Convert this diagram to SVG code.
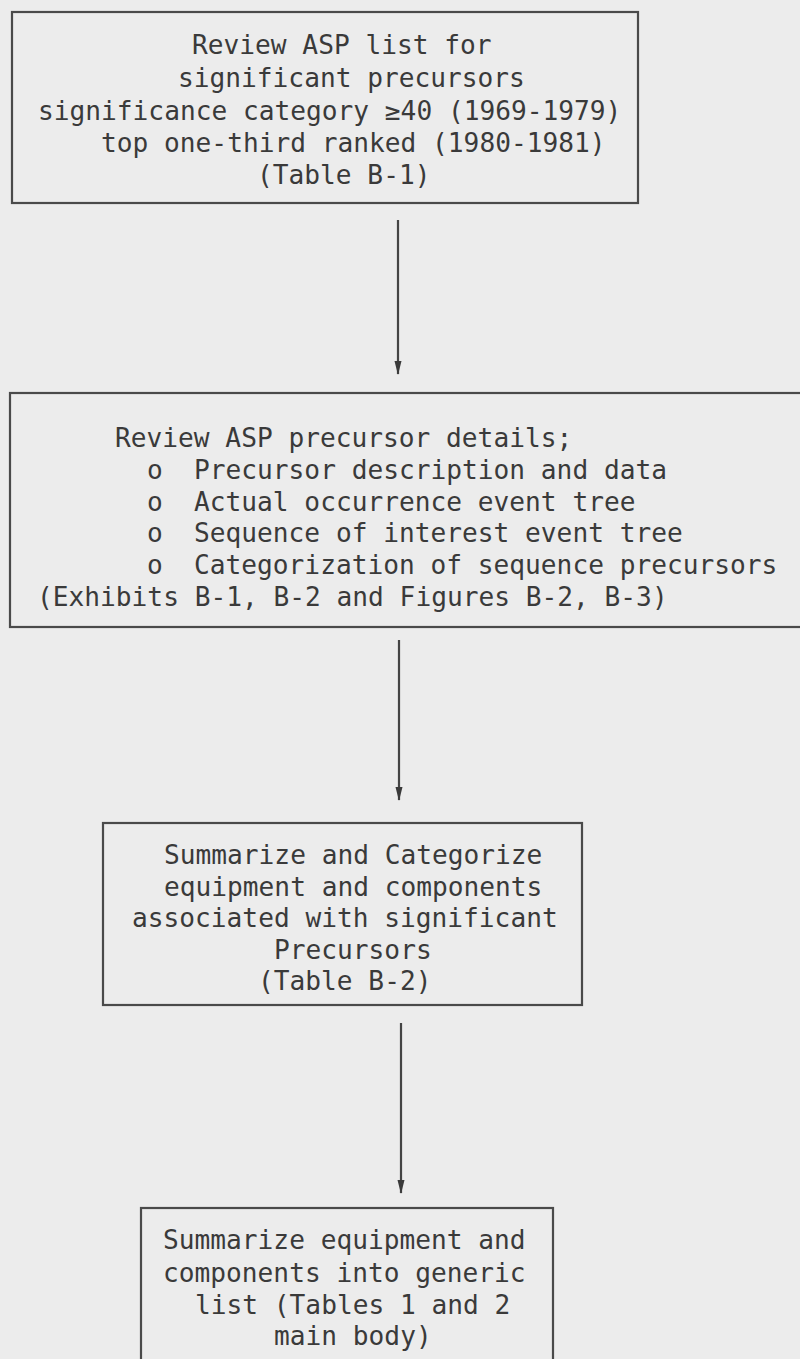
<svg xmlns="http://www.w3.org/2000/svg" width="800" height="1359" viewBox="0 0 800 1359">
  <defs>
    <style>
      .box { fill: none; stroke: #4a4a4a; stroke-width: 2.2; }
      .lbl { font-family: "DejaVu Sans Mono", "Liberation Mono", monospace; font-size: 26.2px; fill: #3a3a3a; }
      .wire { stroke: #444; stroke-width: 2.2; fill: none; marker-end: url(#head); }
    </style>
    <!-- narrow filled arrowhead used by every connector, drawn along +x -->
    <marker id="head" viewBox="0 0 14 8" refX="13" refY="4" markerWidth="14" markerHeight="8" markerUnits="userSpaceOnUse" orient="auto">
      <path d="M0,0.5 L14,4 L0,7.5 Z" fill="#3a3a3a"/>
    </marker>
  </defs>

  <rect width="800" height="1359" fill="#ececec"/>

  <!-- step 1 -->
  <g id="review-list">
    <rect class="box" x="12" y="12" width="626" height="191"/>
    <text class="lbl" x="192" y="54">Review ASP list for</text>
    <text class="lbl" x="178" y="87">significant precursors</text>
    <text class="lbl" x="38" y="120">significance category ≥40 (1969-1979)</text>
    <text class="lbl" x="101" y="152">top one-third ranked (1980-1981)</text>
    <text class="lbl" x="257" y="184">(Table B-1)</text>
  </g>

  <!-- step 2 -->
  <g id="review-details">
    <rect class="box" x="10" y="393" width="800" height="234"/>
    <text class="lbl" x="115" y="447">Review ASP precursor details;</text>
    <text class="lbl" y="479"><tspan x="147">o</tspan><tspan x="194">Precursor description and data</tspan></text>
    <text class="lbl" y="511"><tspan x="147">o</tspan><tspan x="194">Actual occurrence event tree</tspan></text>
    <text class="lbl" y="542"><tspan x="147">o</tspan><tspan x="194">Sequence of interest event tree</tspan></text>
    <text class="lbl" y="574"><tspan x="147">o</tspan><tspan x="194">Categorization of sequence precursors</tspan></text>
    <text class="lbl" x="37" y="606">(Exhibits B-1, B-2 and Figures B-2, B-3)</text>
  </g>

  <!-- step 3 -->
  <g id="categorize">
    <rect class="box" x="103" y="823" width="479" height="182"/>
    <text class="lbl" x="164" y="864">Summarize and Categorize</text>
    <text class="lbl" x="164" y="896">equipment and components</text>
    <text class="lbl" x="132" y="927">associated with significant</text>
    <text class="lbl" x="274" y="959">Precursors</text>
    <text class="lbl" x="258" y="990">(Table B-2)</text>
  </g>

  <!-- step 4 -->
  <g id="generic-list">
    <rect class="box" x="141" y="1208" width="412" height="200"/>
    <text class="lbl" x="163" y="1249">Summarize equipment and</text>
    <text class="lbl" x="163" y="1282">components into generic</text>
    <text class="lbl" x="195" y="1314">list (Tables 1 and 2</text>
    <text class="lbl" x="274" y="1345">main body)</text>
  </g>

  <!-- connectors -->
  <g id="connectors">
    <line class="wire" x1="398" y1="220" x2="398" y2="374"/>
    <line class="wire" x1="399" y1="640" x2="399" y2="800"/>
    <line class="wire" x1="401" y1="1023" x2="401" y2="1193"/>
  </g>
</svg>
